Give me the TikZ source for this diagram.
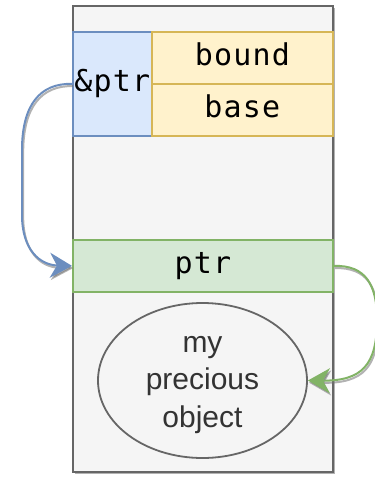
\documentclass[tikz,border=0pt]{standalone}
\usepackage{fontspec}
\setmainfont{Liberation Sans}
\newfontfamily\codefont[LetterSpace=4]{DejaVu Sans Mono}
\usetikzlibrary{arrows.meta,shapes.geometric}

\definecolor{framefill}{HTML}{F5F5F5}
\definecolor{framedraw}{HTML}{666666}
\definecolor{bluefill}{HTML}{DAE8FC}
\definecolor{bluedraw}{HTML}{6C8EBF}
\definecolor{yellowfill}{HTML}{FFF2CC}
\definecolor{yellowdraw}{HTML}{D6B656}
\definecolor{greenfill}{HTML}{D5E8D4}
\definecolor{greendraw}{HTML}{82B366}
\definecolor{objtext}{HTML}{333333}

\tikzset{
  cell/.style={draw, line width=1.8pt, inner sep=0pt, anchor=north west,
    font=\codefont\fontsize{30}{34}\selectfont, text=black,
    text height=22.8pt, text depth=7.2pt},
  ptrcell/.style={cell, fill=bluefill, draw=bluedraw},
  fieldcell/.style={cell, fill=yellowfill, draw=yellowdraw},
  slotcell/.style={cell, fill=greenfill, draw=greendraw},
  framebox/.style={draw=framedraw, fill=framefill, line width=2.2pt,
    inner sep=0pt, anchor=north west},
  objshape/.style={ellipse, draw=framedraw, fill=framefill, line width=1.8pt,
    inner sep=0pt},
  objtextstyle/.style={align=center, text=objtext, inner sep=0pt,
    font=\fontsize{30}{37.5}\selectfont},
  link/.style={line width=2pt,
    -{Stealth[length=22pt, width=25pt, inset=7pt]}},
  linkshadow/.style={link, draw=black!55, opacity=0.55,
    transform canvas={shift={(1.2pt,-2.2pt)}}},
}

\begin{document}
\begin{tikzpicture}[x=1pt, y=-1pt]
\useasboundingbox (0,0) rectangle (375,477);

% memory frame with its drop shadow
\fill[black, opacity=0.3] (74.5,8) rectangle (334.5,474);
\node[framebox, minimum width=260pt, minimum height=466pt] (frame) at (72,5) {};

% pointer record: address, bound, base
\node[ptrcell, minimum width=79pt, minimum height=104pt] (amp) at (72,31) {\&ptr};
\node[fieldcell, minimum width=181pt, minimum height=52pt] (bound) at (151,31) {bound};
\node[fieldcell, minimum width=181pt, minimum height=52pt] (base) at (151,83) {base};

% the pointer slot
\node[slotcell, minimum width=260pt, minimum height=52pt] (ptr) at (72,239) {ptr};

% the pointed-to object
\node[objshape, minimum width=209pt, minimum height=155pt] (obj) at (202.5,380.5) {};
\node[objtextstyle] (objlabel) at (202.5,385) {my\\precious\\object};

% &ptr refers to the slot
\draw[linkshadow] (amp.west) .. controls (40,83) and (22,105) .. (22,150)
  -- (22,215) .. controls (22,250) and (40,265) .. (ptr.west);
\draw[link, draw=bluedraw] (amp.west) .. controls (40,83) and (22,105) .. (22,150)
  -- (22,215) .. controls (22,250) and (40,265) .. (ptr.west);

% the slot refers to the object
\draw[linkshadow] (ptr.east) .. controls (366,265) and (377,285) .. (377,320)
  .. controls (377,365) and (362,381) .. (obj.east);
\draw[link, draw=greendraw] (ptr.east) .. controls (366,265) and (377,285) .. (377,320)
  .. controls (377,365) and (362,381) .. (obj.east);
\end{tikzpicture}
\end{document}
